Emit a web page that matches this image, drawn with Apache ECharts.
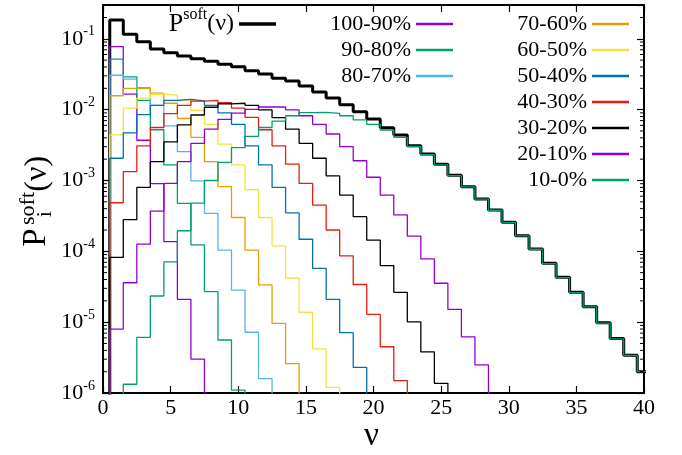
<!DOCTYPE html>
<html><head><meta charset="utf-8">
<script src="https://cdn.jsdelivr.net/npm/echarts@6/dist/echarts.min.js"></script>
<style>html,body{margin:0;padding:0;background:#fff}#c{width:682px;height:455px}</style>
</head><body><div id="c"></div>
<script>
// ---- data: values per integer nu, starting at nu = 1 ----
const nuStart = 1;
const xTicks = [0, 5, 10, 15, 20, 25, 30, 35, 40];
const yDecades = [1e-6, 1e-5, 1e-4, 1e-3, 1e-2, 1e-1];
const classNames = ['100-90%', '90-80%', '80-70%', '70-60%', '60-50%', '50-40%', '40-30%', '30-20%', '20-10%', '10-0%'];
const totalName = 'Psoft';

const psoft = [0.184, 0.1156, 0.091, 0.0718, 0.0637, 0.0571, 0.0524, 0.0481, 0.0436, 0.0403,
  0.0355, 0.0318, 0.0277, 0.0254, 0.0216, 0.0177, 0.0146, 0.0117, 0.00935, 0.00738,
  0.00556, 0.00439, 0.0031, 0.00237, 0.00169, 0.00119, 0.000816, 0.000548, 0.000383, 0.000257,
  0.000166, 0.000108, 0.0000678, 0.000043, 0.0000264, 0.0000165, 0.0000098, 0.0000059, 0.0000034, 0.000002];
const c100_90 = [0.0773, 0.0166, 0.0037, 0.0009, 0.000137, 0.000021, 0.000003];
const c90_80 = [0.0515, 0.029, 0.0135, 0.0052, 0.00166, 0.000476, 0.000123, 0.0000269, 0.0000056, 0.0000011];
const c80_70 = [0.0306, 0.027, 0.0205, 0.0115, 0.0059, 0.00255, 0.00099, 0.000344, 0.000104, 0.0000284, 0.0000072, 0.0000016];
const c70_60 = [0.0157, 0.02, 0.02, 0.0171, 0.0123, 0.0075, 0.00407, 0.00184, 0.00082, 0.0003, 0.000104, 0.0000335, 0.0000096, 0.0000026];
const c60_50 = [0.0044, 0.0105, 0.0145, 0.0165, 0.016, 0.0135, 0.0098, 0.0062, 0.00327, 0.00166, 0.00074, 0.0003, 0.000119, 0.000042, 0.0000138, 0.0000042, 0.0000012];
const c50_40 = [0.00206, 0.0047, 0.0085, 0.0115, 0.0135, 0.014, 0.0133, 0.0115, 0.009, 0.0062, 0.00307, 0.00166, 0.0008, 0.00035, 0.000148, 0.0000575, 0.000021, 0.0000071, 0.0000023];
const c40_30 = [0.000485, 0.00133, 0.00307, 0.0056, 0.0088, 0.0115, 0.0132, 0.0135, 0.0125, 0.0105, 0.0078, 0.0052, 0.00307, 0.0017, 0.00091, 0.00045, 0.0002, 0.000086, 0.000034, 0.0000129, 0.0000045, 0.0000015];
const c30_20 = [0.000082, 0.00028, 0.0008, 0.00184, 0.0035, 0.0061, 0.0084, 0.0108, 0.0121, 0.0123, 0.0115, 0.0099, 0.0077, 0.0053, 0.00335, 0.00206, 0.00116, 0.00062, 0.000308, 0.000144, 0.000063, 0.0000264, 0.0000101, 0.0000038, 0.00000137];
const c20_10 = [0.000008, 0.000036, 0.000126, 0.00037, 0.00091, 0.00184, 0.00335, 0.0053, 0.0073, 0.0089, 0.0101, 0.0109, 0.0109, 0.0099, 0.0082, 0.0062, 0.00453, 0.003, 0.0019, 0.00111, 0.00062, 0.000326, 0.000164, 0.000078, 0.0000354, 0.0000152, 0.0000062, 0.0000025];
const c10_0 = [0, 0.00000133, 0.0000061, 0.0000234, 0.000071, 0.000195, 0.00048, 0.001, 0.0018, 0.0029, 0.0042, 0.0056, 0.0069, 0.0082, 0.00906, 0.00917, 0.00888, 0.0082, 0.00715, 0.00621, 0.00516, 0.00406, 0.00302, 0.00232, 0.00166, 0.00117, 0.00081, 0.000545, 0.00038, 0.000255, 0.000165, 0.000107, 0.0000672, 0.0000426, 0.0000262, 0.0000164, 0.0000097, 0.0000058, 0.0000034, 0.000002];

const classValues = [c100_90, c90_80, c80_70, c70_60, c60_50, c50_40, c40_30, c30_20, c20_10, c10_0];
const classColors = ['#9400d3', '#009e73', '#56b4e9', '#e69f00', '#f0e442', '#0072b2', '#e51e10', '#000000', '#9400d3', '#009e73'];

// ---- build ----
const FONT = 'Liberation Serif';
const YMIN = 1e-6, YMAX = 0.3, FLOOR = 1e-9;

function histSteps(vals) {
  const pts = [[nuStart - 0.5, FLOOR]];
  vals.forEach((v, i) => pts.push([nuStart + i - 0.5, v > 0 ? v : FLOOR]));
  pts.push([nuStart + vals.length - 0.5, FLOOR]);
  return pts;
}

const series = [];
series.push({
  name: totalName, type: 'line', step: 'end', symbol: 'none', data: histSteps(psoft),
  itemStyle: {color: '#000'}, lineStyle: {color: '#000', width: 3}, z: 2, silent: true
});
classNames.forEach((n, k) => {
  series.push({
    name: n, type: 'line', step: 'end', symbol: 'none', data: histSteps(classValues[k]),
    itemStyle: {color: classColors[k]}, lineStyle: {color: classColors[k], width: 1.3}, z: 3 + k, silent: true
  });
});

// minor log ticks (2..9 x 10^k) on left and right frame
const minorVals = [];
yDecades.forEach(d => { for (let m = 2; m <= 9; m++) { const v = m * d; if (v < YMAX) minorVals.push(v); } });
series.push({
  type: 'custom', coordinateSystem: 'cartesian2d', silent: true, z: 20, clip: false,
  data: minorVals.map(v => [xTicks[0], v]),
  renderItem: (params, api) => {
    const v = api.value(1);
    const pl = api.coord([xTicks[0], v]);
    const pr = api.coord([xTicks[xTicks.length - 1], v]);
    return {type: 'group', children: [
      {type: 'line', shape: {x1: pl[0], y1: pl[1], x2: pl[0] + 4, y2: pl[1]}, style: {stroke: '#000', lineWidth: 1}},
      {type: 'line', shape: {x1: pr[0] - 4, y1: pr[1], x2: pr[0], y2: pr[1]}, style: {stroke: '#000', lineWidth: 1}}
    ]};
  }
});

const axisLine = {show: true, onZero: false, lineStyle: {color: '#000', width: 2}};
const axisTick = {show: true, inside: true, length: 7, lineStyle: {color: '#000', width: 1.2}};

function yLabel(v) {
  const e = Math.log10(v), r = Math.round(e);
  if (Math.abs(e - r) > 1e-6 || v < YMIN * 0.999) return '';
  return '{b|10}{s|' + r + '}';
}

const xCommon = {type: 'value', min: xTicks[0], max: xTicks[xTicks.length - 1], interval: xTicks[1] - xTicks[0],
  axisLine: axisLine, axisTick: axisTick, splitLine: {show: false}, minorTick: {show: false}};
const yCommon = {type: 'log', logBase: 10, min: YMIN, max: YMAX,
  axisLine: axisLine, axisTick: axisTick, splitLine: {show: false}, minorTick: {show: false}};

const legendText = {fontFamily: FONT, fontSize: 22, color: '#000', lineHeight: 22};

const option = {
  animation: false,
  backgroundColor: '#fff',
  grid: {left: 103, right: 38, top: 5, bottom: 62, containLabel: false, outerBoundsMode: 'none'},
  xAxis: [
    Object.assign({}, xCommon, {position: 'bottom',
      axisLabel: {show: true, fontFamily: FONT, fontSize: 22, color: '#000', margin: 4}}),
    Object.assign({}, xCommon, {position: 'top', axisLabel: {show: false}})
  ],
  yAxis: [
    Object.assign({}, yCommon, {position: 'left',
      axisLabel: {show: true, margin: 8, formatter: yLabel, showMaxLabel: false,
        rich: {b: {fontFamily: FONT, fontSize: 22, color: '#000', lineHeight: 28},
               s: {fontFamily: FONT, fontSize: 14, color: '#000', verticalAlign: 'top', lineHeight: 14}}}}),
    Object.assign({}, yCommon, {position: 'right', axisLabel: {show: false}})
  ],
  legend: [
    {data: [{name: totalName, icon: 'rect'}], orient: 'vertical', align: 'right', right: 406, top: 7, padding: 0,
      itemWidth: 37, itemHeight: 3.5, itemStyle: {borderWidth: 0}, selectedMode: false,
      formatter: () => '{p|P}{s|soft}{q|(ν)}',
      textStyle: {fontFamily: FONT, color: '#000', rich: {
        p: {fontFamily: FONT, fontSize: 26, color: '#000', lineHeight: 34},
        s: {fontFamily: FONT, fontSize: 16, color: '#000', verticalAlign: 'top', lineHeight: 16},
        q: {fontFamily: FONT, fontSize: 24, color: '#000', lineHeight: 34}}}},
    {data: classNames.slice(0, 3).map(n => ({name: n, icon: 'rect'})), orient: 'vertical', align: 'right',
      right: 229, top: 13, padding: 0, itemGap: 4, itemWidth: 37, itemHeight: 2.6, itemStyle: {borderWidth: 0},
      selectedMode: false, textStyle: legendText},
    {data: classNames.slice(3).map(n => ({name: n, icon: 'rect'})), orient: 'vertical', align: 'right',
      right: 53, top: 13, padding: 0, itemGap: 4, itemWidth: 37, itemHeight: 2.6, itemStyle: {borderWidth: 0},
      selectedMode: false, textStyle: legendText}
  ],
  graphic: [
    {type: 'group', x: 46.7, y: 246.7, rotation: Math.PI / 2, silent: true, children: [
      {type: 'text', x: 0, y: 6.6, style: {text: 'P', font: '33px "Liberation Serif"', fill: '#000', align: 'left', verticalAlign: 'bottom'}},
      {type: 'text', x: 21.7, y: -7.3, style: {text: 'soft', font: '22px "Liberation Serif"', fill: '#000', align: 'left', verticalAlign: 'bottom'}},
      {type: 'text', x: 29.4, y: 9.4, style: {text: 'i', font: '22px "Liberation Serif"', fill: '#000', align: 'left', verticalAlign: 'bottom'}},
      {type: 'text', x: 55, y: 6.4, style: {text: '(ν)', font: '32px "Liberation Serif"', fill: '#000', align: 'left', verticalAlign: 'bottom'}}
    ]},
    {type: 'text', left: 364, top: 420, silent: true,
      style: {text: 'ν', font: '33px "Liberation Serif"', fill: '#000'}}
  ],
  series: series
};

const chart = echarts.init(document.getElementById('c'), null, {renderer: 'canvas', width: 682, height: 455});
chart.setOption(option);
</script>
</body></html>
